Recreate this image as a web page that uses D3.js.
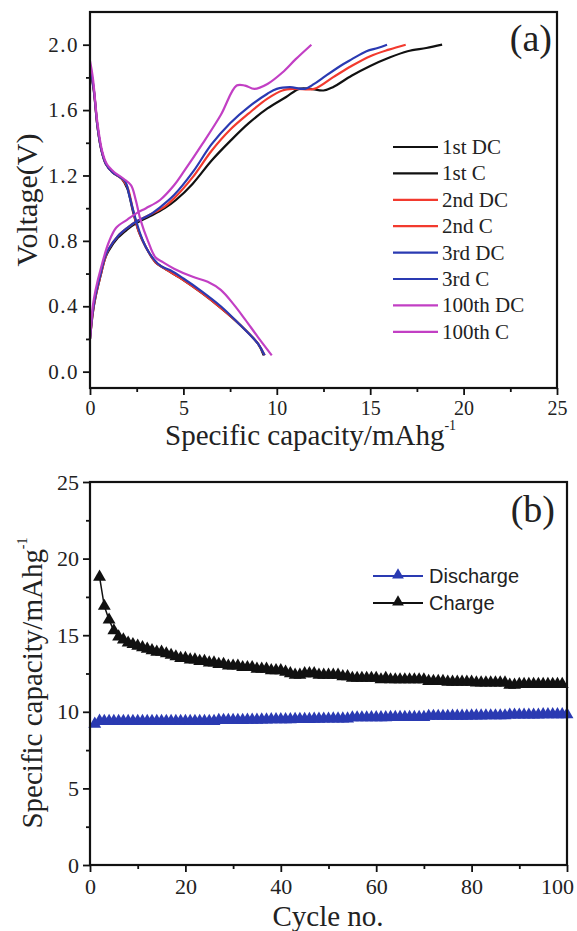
<!DOCTYPE html>
<html>
<head>
<meta charset="utf-8">
<script src="https://cdn.jsdelivr.net/npm/d3@7"></script>
<style>
  body { margin: 0; background: #fff; }
</style>
</head>
<body>
<svg id="chart" width="577" height="931"></svg>
<script>
// ---- panel (a): voltage profiles ----
const dc1Cap = [0, 0.2, 0.4, 0.6, 0.85, 1.2, 1.7, 2.0, 2.3, 2.6, 3.0, 3.5, 4.0, 5.0, 6.0, 7.0, 8.0, 9.0, 9.3];
const dc1V   = [1.86, 1.72, 1.50, 1.36, 1.27, 1.22, 1.18, 1.12, 0.98, 0.86, 0.76, 0.67, 0.63, 0.56, 0.48, 0.39, 0.29, 0.17, 0.10];
const c1Cap  = [0, 0.15, 0.3, 0.55, 0.8, 1.0, 1.5, 2.0, 2.5, 3.2, 4.0, 4.6, 5.5, 6.5, 7.5, 8.5, 9.5, 10.5, 11.2, 11.8, 12.5, 13.0, 14.0, 15.0, 16.0, 17.0, 18.0, 18.85];
const c1V    = [0.20, 0.36, 0.46, 0.58, 0.69, 0.74, 0.82, 0.87, 0.91, 0.95, 1.00, 1.05, 1.15, 1.29, 1.41, 1.52, 1.61, 1.68, 1.73, 1.73, 1.72, 1.74, 1.81, 1.87, 1.92, 1.96, 1.98, 2.00];
const dc2Cap = [0, 0.2, 0.4, 0.6, 0.85, 1.2, 1.7, 2.0, 2.3, 2.6, 3.0, 3.5, 4.0, 5.0, 6.0, 7.0, 8.0, 9.0, 9.35];
const dc2V   = [1.87, 1.73, 1.50, 1.36, 1.27, 1.22, 1.18, 1.13, 0.99, 0.86, 0.76, 0.67, 0.63, 0.56, 0.48, 0.39, 0.29, 0.17, 0.10];
const c2Cap  = [0, 0.15, 0.3, 0.55, 0.8, 1.0, 1.5, 2.0, 2.5, 3.2, 4.0, 4.5, 5.5, 6.5, 7.5, 8.5, 9.5, 10.3, 11.0, 12.0, 13.0, 14.0, 15.0, 16.0, 16.9];
const c2V    = [0.20, 0.36, 0.46, 0.58, 0.69, 0.75, 0.83, 0.88, 0.92, 0.96, 1.01, 1.06, 1.19, 1.35, 1.48, 1.58, 1.67, 1.72, 1.73, 1.73, 1.80, 1.87, 1.93, 1.97, 2.00];
const dc3Cap = [0, 0.2, 0.4, 0.6, 0.85, 1.2, 1.6, 1.9, 2.1, 2.4, 2.7, 3.0, 3.4, 3.8, 4.3, 5.0, 6.0, 7.0, 8.0, 9.0, 9.35];
const dc3V   = [1.87, 1.73, 1.50, 1.36, 1.27, 1.22, 1.19, 1.16, 1.08, 0.95, 0.84, 0.76, 0.69, 0.645, 0.62, 0.57, 0.49, 0.40, 0.29, 0.17, 0.10];
const c3Cap  = [0, 0.15, 0.3, 0.55, 0.8, 1.0, 1.5, 2.0, 2.5, 3.2, 3.8, 4.5, 5.5, 6.5, 7.5, 8.5, 9.5, 10.0, 10.7, 11.5, 12.0, 12.5, 13.4, 14.0, 14.8, 15.4, 15.9];
const c3V    = [0.20, 0.37, 0.47, 0.59, 0.70, 0.75, 0.83, 0.88, 0.92, 0.96, 1.01, 1.08, 1.22, 1.39, 1.52, 1.62, 1.70, 1.73, 1.74, 1.73, 1.76, 1.80, 1.87, 1.91, 1.96, 1.98, 2.00];
const dc100Cap = [0, 0.15, 0.4, 0.65, 0.9, 1.3, 1.8, 2.2, 2.45, 2.7, 3.1, 3.5, 3.9, 4.5, 5.5, 6.3, 7.0, 7.7, 8.3, 9.0, 9.73];
const dc100V   = [1.90, 1.80, 1.52, 1.35, 1.27, 1.22, 1.18, 1.14, 1.05, 0.93, 0.80, 0.70, 0.67, 0.63, 0.58, 0.55, 0.50, 0.41, 0.32, 0.21, 0.10];
const c100Cap  = [0, 0.15, 0.3, 0.6, 1.0, 1.4, 2.0, 2.5, 3.0, 3.75, 4.5, 5.0, 6.0, 7.0, 7.85, 8.3, 8.8, 9.5, 10.3, 11.0, 11.85];
const c100V    = [0.20, 0.40, 0.50, 0.64, 0.79, 0.88, 0.93, 0.97, 1.00, 1.05, 1.14, 1.22, 1.39, 1.57, 1.75, 1.75, 1.73, 1.76, 1.83, 1.91, 2.00];

const curveNames = ["1st DC", "1st C", "2nd DC", "2nd C", "3rd DC", "3rd C", "100th DC", "100th C"];
const curveCaps = [dc1Cap, c1Cap, dc2Cap, c2Cap, dc3Cap, c3Cap, dc100Cap, c100Cap];
const curveVolts = [dc1V, c1V, dc2V, c2V, dc3V, c3V, dc100V, c100V];
const curveColors = ["#111", "#111", "#f23a2e", "#f23a2e", "#2a3ab2", "#2a3ab2", "#c23fc4", "#c23fc4"];

// ---- panel (b): cycling ----
const chargeStart = 2;
const chargeCap = [
  18.8, 16.9, 16.0, 15.3, 14.9, 14.7, 14.5, 14.4, 14.3,
  14.2, 14.1, 14.0, 13.9, 13.9, 13.8, 13.7, 13.6, 13.5, 13.5,
  13.4, 13.4, 13.3, 13.3, 13.2, 13.2, 13.1, 13.1, 13.0, 13.0,
  13.0, 12.9, 12.9, 12.9, 12.8, 12.8, 12.8, 12.7, 12.7, 12.7,
  12.6, 12.5, 12.4, 12.4, 12.5, 12.5, 12.5, 12.4, 12.4, 12.4,
  12.4, 12.4, 12.3, 12.3, 12.2, 12.2, 12.2, 12.2, 12.2, 12.2,
  12.1, 12.2, 12.1, 12.1, 12.1, 12.1, 12.1, 12.1, 12.1, 12.1,
  12.0, 12.0, 12.0, 12.0, 11.95, 11.95, 11.95, 11.95, 11.95, 11.95,
  11.9, 11.9, 11.9, 11.9, 11.9, 11.9, 11.9, 11.75, 11.75, 11.8,
  11.8, 11.8, 11.8, 11.8, 11.8, 11.8, 11.8, 11.8, 11.8
];
const dischargeStart = 1;
const dischargeCap = [
  9.2, 9.4, 9.38, 9.38, 9.38, 9.38, 9.38, 9.38, 9.38, 9.38,
  9.38, 9.38, 9.38, 9.38, 9.38, 9.38, 9.38, 9.38, 9.38, 9.38,
  9.38, 9.38, 9.38, 9.38, 9.38, 9.38, 9.45, 9.45, 9.45, 9.45,
  9.45, 9.45, 9.47, 9.47, 9.47, 9.48, 9.48, 9.5, 9.5, 9.5,
  9.5, 9.5, 9.52, 9.52, 9.52, 9.52, 9.53, 9.53, 9.54, 9.54,
  9.55, 9.55, 9.55, 9.55, 9.62, 9.62, 9.62, 9.62, 9.63, 9.63,
  9.63, 9.63, 9.64, 9.64, 9.64, 9.65, 9.65, 9.65, 9.65, 9.65,
  9.72, 9.72, 9.72, 9.72, 9.72, 9.73, 9.73, 9.73, 9.73, 9.74,
  9.74, 9.74, 9.75, 9.75, 9.75, 9.75, 9.75, 9.8, 9.8, 9.8,
  9.8, 9.8, 9.8, 9.8, 9.82, 9.82, 9.82, 9.82, 9.82, 9.82
];
const seriesNames = ["Discharge", "Charge"];
const seriesColors = ["#2a3ab2", "#111"];

const xTicksA = [0, 5, 10, 15, 20, 25];
const yTicksA = [0.0, 0.4, 0.8, 1.2, 1.6, 2.0];
const xTicksB = [0, 20, 40, 60, 80, 100];
const yTicksB = [0, 5, 10, 15, 20, 25];

const SERIF = "Liberation Serif, Times New Roman, serif";
const SANS = "Liberation Sans, Arial, sans-serif";

const svg = d3.select("#chart").attr("font-family", SERIF);

function drawFrame(g, x, y, xTicks, yTicks, fmtY, xFont, yFont, ySpacing) {
  let [x0, x1] = x.range();
  let [y0, y1] = y.range();
  let xMinor = xTicks.slice(0, -1).map((t, i) => (t + xTicks[i + 1]) / 2);
  let yMinor = yTicks.slice(0, -1).map((t, i) => (t + yTicks[i + 1]) / 2);

  g.append("g").attr("transform", `translate(0,${y0})`)
    .call(d3.axisBottom(x).tickValues(xMinor).tickSize(4).tickFormat(""))
    .call(a => a.select(".domain").remove())
    .call(a => a.selectAll("line").attr("stroke", "#111").attr("stroke-width", 1.8));
  g.append("g").attr("transform", `translate(0,${y0})`)
    .call(d3.axisBottom(x).tickValues(xTicks).tickSize(7).tickPadding(6))
    .call(a => a.select(".domain").remove())
    .call(a => a.selectAll("line").attr("stroke", "#111").attr("stroke-width", 1.8))
    .call(a => a.selectAll("text").attr("font-size", xFont).attr("fill", "#222")
      .attr("font-family", SERIF))
    // the last label sits inside the picture edge
    .call(a => a.selectAll(".tick:last-of-type text").attr("dx", x1 > 560 ? -10 : 0));

  g.append("g").attr("transform", `translate(${x0},0)`)
    .call(d3.axisLeft(y).tickValues(yMinor).tickSize(4).tickFormat(""))
    .call(a => a.select(".domain").remove())
    .call(a => a.selectAll("line").attr("stroke", "#111").attr("stroke-width", 1.8));
  g.append("g").attr("transform", `translate(${x0},0)`)
    .call(d3.axisLeft(y).tickValues(yTicks).tickSize(7).tickPadding(4).tickFormat(fmtY))
    .call(a => a.select(".domain").remove())
    .call(a => a.selectAll("line").attr("stroke", "#111").attr("stroke-width", 1.8))
    .call(a => a.selectAll("text").attr("font-size", yFont).attr("fill", "#222")
      .attr("letter-spacing", ySpacing).attr("font-family", SERIF));

  g.append("rect")
    .attr("x", x0).attr("y", y1)
    .attr("width", x1 - x0).attr("height", y0 - y1)
    .attr("fill", "none").attr("stroke", "#111").attr("stroke-width", 2.2);
}

// panel (a)
let xA = d3.scaleLinear().domain([0, 25]).range([90, 557]);
let yA = d3.scaleLinear().domain([-0.1, 2.2]).range([388, 12]);
let gA = svg.append("g");

let lineA = d3.line().x(d => xA(d[0])).y(d => yA(d[1])).curve(d3.curveCatmullRom.alpha(0.5));

curveNames.forEach((name, i) => {
  let pts = curveCaps[i].map((c, j) => [c, curveVolts[i][j]]);
  gA.append("path")
    .attr("d", lineA(pts))
    .attr("fill", "none")
    .attr("stroke", curveColors[i])
    .attr("stroke-width", 2.2)
    .attr("stroke-linejoin", "round");
});

drawFrame(gA, xA, yA, xTicksA, yTicksA, d3.format(".1f"), "20px", "21px", "1.5px");

let legA = gA.append("g").attr("transform", "translate(393,147)");
curveNames.forEach((name, i) => {
  let row = legA.append("g").attr("transform", `translate(0,${i * 26.4})`);
  row.append("line").attr("x1", 0).attr("x2", 45).attr("y1", 0).attr("y2", 0)
    .attr("stroke", curveColors[i]).attr("stroke-width", 2.2);
  row.append("text").attr("x", 49).attr("y", 7).attr("font-size", "21px").attr("fill", "#222").text(name);
});

gA.append("text").attr("x", 552).attr("y", 51).attr("text-anchor", "end")
  .attr("font-size", "38px").attr("fill", "#222").text("(a)");

gA.append("text")
  .attr("transform", `translate(37,200) rotate(-90)`)
  .attr("text-anchor", "middle")
  .attr("font-size", "30px").attr("fill", "#222")
  .text("Voltage(V)");

let xlabA = gA.append("text").attr("x", 165).attr("y", 445).attr("font-size", "29px").attr("fill", "#222");
xlabA.append("tspan").text("Specific capacity/mAhg");
xlabA.append("tspan").attr("dy", -15).attr("font-size", "14px").text("-1");

// panel (b)
let xB = d3.scaleLinear().domain([0, 100]).range([90, 567]);
let yB = d3.scaleLinear().domain([0, 25]).range([865, 482]);
let gB = svg.append("g");

let tri = d3.symbol().type(d3.symbolTriangle).size(72);
let lineB = d3.line().x(d => xB(d[0])).y(d => yB(d[1]));

let seriesData = [
  dischargeCap.map((v, i) => [dischargeStart + i, v]),
  chargeCap.map((v, i) => [chargeStart + i, v])
];

seriesData.forEach((pts, k) => {
  gB.append("path").attr("d", lineB(pts)).attr("fill", "none")
    .attr("stroke", seriesColors[k]).attr("stroke-width", 1.5);
  gB.selectAll(`.mk${k}`)
    .data(pts)
    .enter()
    .append("path")
    .attr("class", `mk${k}`)
    .attr("d", tri)
    .attr("transform", d => `translate(${xB(d[0])},${yB(d[1])})`)
    .attr("fill", seriesColors[k]);
});

drawFrame(gB, xB, yB, xTicksB, yTicksB, d3.format("d"), "22px", "22px", "0px");

let legB = gB.append("g").attr("transform", "translate(373,576)");
seriesNames.forEach((name, i) => {
  let row = legB.append("g").attr("transform", `translate(0,${i * 27})`);
  row.append("line").attr("x1", 0).attr("x2", 50).attr("y1", 0).attr("y2", 0)
    .attr("stroke", seriesColors[i]).attr("stroke-width", 1.8);
  row.append("path").attr("d", d3.symbol().type(d3.symbolTriangle).size(60))
    .attr("transform", "translate(25,-1)").attr("fill", seriesColors[i]);
  row.append("text").attr("x", 56).attr("y", 7).attr("font-size", "20px")
    .attr("font-family", SANS).attr("fill", "#222").text(name);
});

gB.append("text").attr("x", 555).attr("y", 522).attr("text-anchor", "end")
  .attr("font-size", "38px").attr("fill", "#222").text("(b)");

let ylabB = gB.append("text")
  .attr("transform", `translate(42,683) rotate(-90)`)
  .attr("text-anchor", "middle")
  .attr("font-size", "29px").attr("fill", "#222");
ylabB.append("tspan").text("Specific capacity/mAhg");
ylabB.append("tspan").attr("dy", -15).attr("font-size", "14px").text("-1");

gB.append("text").attr("x", 328).attr("y", 926).attr("text-anchor", "middle")
  .attr("font-size", "29px").attr("fill", "#222").text("Cycle no.");
</script>
</body>
</html>
